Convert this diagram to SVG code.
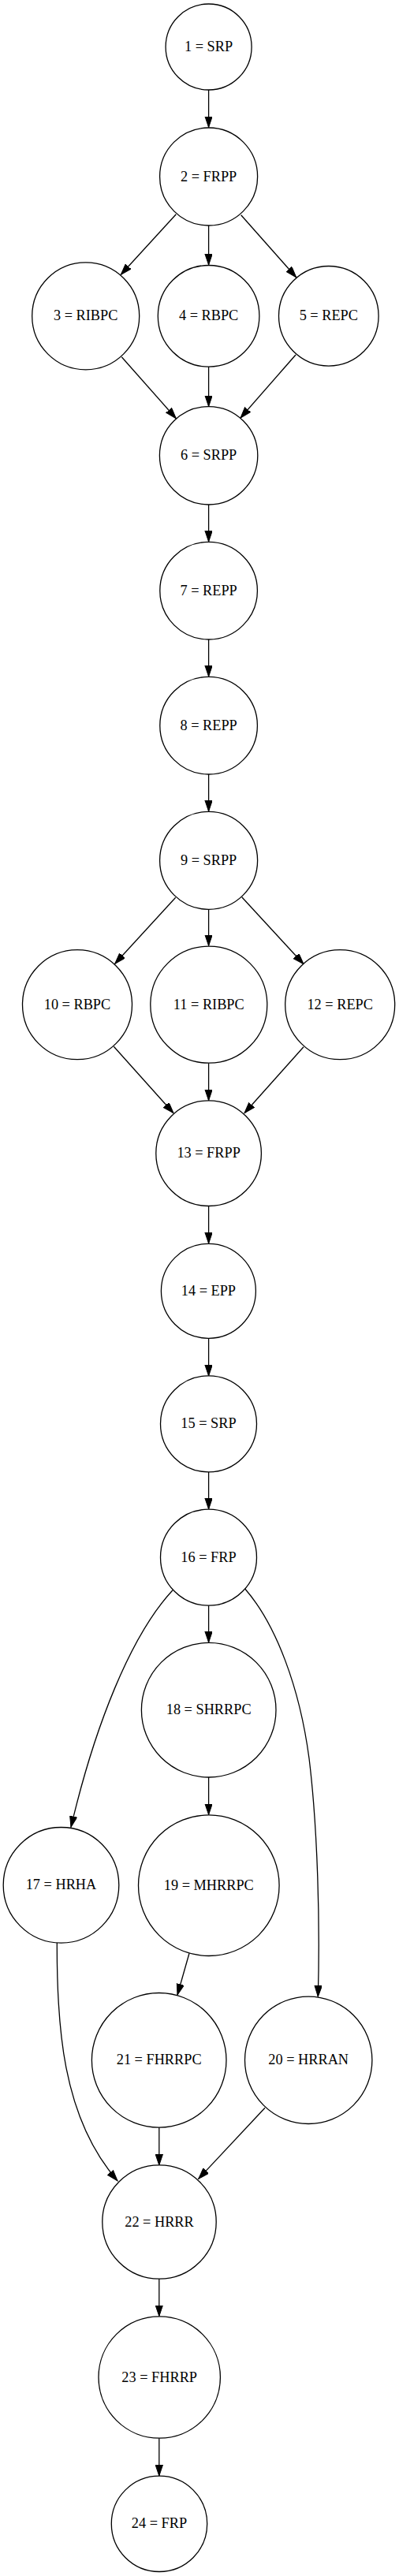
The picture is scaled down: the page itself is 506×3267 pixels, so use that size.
<svg xmlns="http://www.w3.org/2000/svg" width="506" height="3267" viewBox="0 0 506 3267">
<style>
.n circle{fill:#fff;stroke:#000;stroke-width:1.3}
.n text{font-family:"Liberation Serif","Times New Roman",serif;font-size:18.3px;text-anchor:middle;fill:#000}
#edges path,#edges line{fill:none;stroke:#000;stroke-width:1.3;marker-end:url(#ah)}
</style>
<defs>
<marker id="ah" markerUnits="userSpaceOnUse" markerWidth="15" markerHeight="10" refX="14" refY="4.7" orient="auto" viewBox="0 0 15 10">
<path d="M0,0 L14,4.7 L0,9.4 z" fill="#000" stroke="#000" stroke-width="1"/>
</marker>
</defs>
<rect width="506" height="3267" fill="#fff"/>
<g id="edges">
<line x1="264.6" y1="114" x2="264.6" y2="161.5"/>
<line x1="223.3" y1="271.7" x2="153.3" y2="348.3"/>
<line x1="264.6" y1="286" x2="264.6" y2="336"/>
<line x1="305.7" y1="272.7" x2="375.7" y2="351.7"/>
<line x1="154.3" y1="452.7" x2="223.3" y2="530.7"/>
<line x1="264.6" y1="465" x2="264.6" y2="515.5"/>
<line x1="375" y1="450" x2="305" y2="530"/>
<line x1="264.6" y1="640" x2="264.6" y2="687"/>
<line x1="264.6" y1="811" x2="264.6" y2="858"/>
<line x1="264.6" y1="982" x2="264.6" y2="1029"/>
<line x1="222.7" y1="1138.3" x2="145.7" y2="1222.3"/>
<line x1="264.6" y1="1153.3" x2="264.6" y2="1199.5"/>
<line x1="306.7" y1="1137.7" x2="385" y2="1222.7"/>
<line x1="144.3" y1="1327.3" x2="220" y2="1411.7"/>
<line x1="264.6" y1="1348.3" x2="264.6" y2="1395.7"/>
<line x1="385" y1="1327.7" x2="310" y2="1411.7"/>
<line x1="264.6" y1="1529.3" x2="264.6" y2="1577"/>
<line x1="264.6" y1="1697.3" x2="264.6" y2="1745"/>
<line x1="264.6" y1="1866.7" x2="264.6" y2="1914"/>
<path d="M219,2016.7 C165,2075 120,2190 90,2317.3"/>
<line x1="264.6" y1="2036" x2="264.6" y2="2083"/>
<path d="M310.7,2015 C350,2060 380,2140 392,2230 C403,2320 406,2440 403.3,2532.3"/>
<line x1="264.6" y1="2254" x2="264.6" y2="2301.5"/>
<line x1="240" y1="2477.3" x2="225" y2="2530"/>
<path d="M72.3,2464 C72,2565 78,2685 149,2765.7"/>
<line x1="201.8" y1="2698.3" x2="201.8" y2="2746"/>
<line x1="336" y1="2673.3" x2="251.7" y2="2763.3"/>
<line x1="201.8" y1="2890" x2="201.8" y2="2937.5"/>
<line x1="201.8" y1="3092.3" x2="201.8" y2="3140"/>
</g>
<g id="n1" class="n"><circle cx="264.6" cy="59.5" r="54.5"/><text x="264.6" y="65">1 = SRP</text></g>
<g id="n2" class="n"><circle cx="264.6" cy="224" r="62"/><text x="264.6" y="229.5">2 = FRPP</text></g>
<g id="n3" class="n"><circle cx="108.7" cy="400.8" r="68"/><text x="108.7" y="406.3">3 = RIBPC</text></g>
<g id="n4" class="n"><circle cx="264.6" cy="400.8" r="64.3"/><text x="264.6" y="406.3">4 = RBPC</text></g>
<g id="n5" class="n"><circle cx="416.8" cy="400.8" r="63.3"/><text x="416.8" y="406.3">5 = REPC</text></g>
<g id="n6" class="n"><circle cx="264.6" cy="577.8" r="62.2"/><text x="264.6" y="583.3">6 = SRPP</text></g>
<g id="n7" class="n"><circle cx="264.6" cy="749.2" r="61.8"/><text x="264.6" y="754.7">7 = REPP</text></g>
<g id="n8" class="n"><circle cx="264.6" cy="920.2" r="61.8"/><text x="264.6" y="925.7">8 = REPP</text></g>
<g id="n9" class="n"><circle cx="264.6" cy="1091.3" r="62"/><text x="264.6" y="1096.8">9 = SRPP</text></g>
<g id="n10" class="n"><circle cx="98" cy="1274.2" r="69.5"/><text x="98" y="1279.7">10 = RBPC</text></g>
<g id="n11" class="n"><circle cx="264.8" cy="1274.2" r="74"/><text x="264.8" y="1279.7">11 = RIBPC</text></g>
<g id="n12" class="n"><circle cx="431.2" cy="1274.2" r="69.5"/><text x="431.2" y="1279.7">12 = REPC</text></g>
<g id="n13" class="n"><circle cx="264.6" cy="1462.7" r="66.8"/><text x="264.6" y="1468.2">13 = FRPP</text></g>
<g id="n14" class="n"><circle cx="264.4" cy="1637.3" r="60"/><text x="264.4" y="1642.8">14 = EPP</text></g>
<g id="n15" class="n"><circle cx="264.5" cy="1805.8" r="61"/><text x="264.5" y="1811.3">15 = SRP</text></g>
<g id="n16" class="n"><circle cx="264.5" cy="1975.2" r="61"/><text x="264.5" y="1980.7">16 = FRP</text></g>
<g id="n17" class="n"><circle cx="77.5" cy="2390.8" r="73.3"/><text x="77.5" y="2396.3">17 = HRHA</text></g>
<g id="n18" class="n"><circle cx="264.7" cy="2168.7" r="85.3"/><text x="264.7" y="2174.2">18 = SHRRPC</text></g>
<g id="n19" class="n"><circle cx="264.8" cy="2391.2" r="89.3"/><text x="264.8" y="2396.7">19 = MHRRPC</text></g>
<g id="n20" class="n"><circle cx="391.2" cy="2612.8" r="80.7"/><text x="391.2" y="2618.3">20 = HRRAN</text></g>
<g id="n21" class="n"><circle cx="201.7" cy="2612.8" r="85.3"/><text x="201.7" y="2618.3">21 = FHRRPC</text></g>
<g id="n22" class="n"><circle cx="202" cy="2818" r="72.2"/><text x="202" y="2823.5">22 = HRRR</text></g>
<g id="n23" class="n"><circle cx="202.2" cy="3015" r="77.2"/><text x="202.2" y="3020.5">23 = FHRRP</text></g>
<g id="n24" class="n"><circle cx="202" cy="3200.8" r="60.7"/><text x="202" y="3206.3">24 = FRP</text></g>
</svg>
